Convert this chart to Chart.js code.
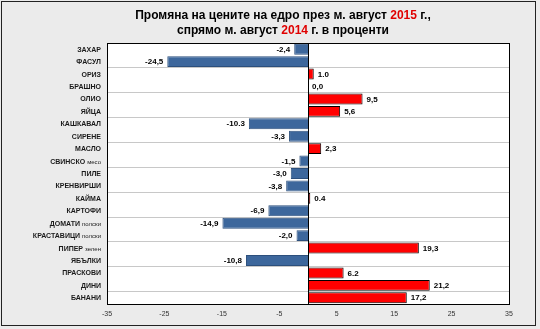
<!DOCTYPE html>
<html lang="bg">
<head>
<meta charset="UTF-8">
<title>Промяна на цените на едро</title>
<script src="https://cdn.jsdelivr.net/npm/chart.js@4.4.0/dist/chart.umd.min.js"></script>
<style>
  body { margin: 0; background: #ebebeb; }
  #wrap { width: 540px; height: 329px; position: relative; }
</style>
</head>
<body>
<div id="wrap"><canvas id="priceChart"></canvas></div>

<script>
// categories: main name + small lowercase suffix
const products = ["ЗАХАР", "ФАСУЛ", "ОРИЗ", "БРАШНО", "ОЛИО", "ЯЙЦА", "КАШКАВАЛ", "СИРЕНЕ", "МАСЛО",
  "СВИНСКО", "ПИЛЕ", "КРЕНВИРШИ", "КАЙМА", "КАРТОФИ", "ДОМАТИ", "КРАСТАВИЦИ", "ПИПЕР",
  "ЯБЪЛКИ", "ПРАСКОВИ", "ДИНИ", "БАНАНИ"];
const suffixes = ["", "", "", "", "", "", "", "", "", "месо", "", "", "", "", "полски", "полски", "зелен",
  "", "", "", ""];
const changes = [-2.4, -24.5, 1.0, 0.0, 9.5, 5.6, -10.3, -3.3, 2.3, -1.5, -3.0, -3.8, 0.4, -6.9,
  -14.9, -2.0, 19.3, -10.8, 6.2, 21.2, 17.2];
const changeLabels = ["-2,4", "-24,5", "1.0", "0,0", "9,5", "5,6", "-10.3", "-3,3", "2,3", "-1,5",
  "-3,0", "-3,8", "0.4", "-6,9", "-14,9", "-2,0", "19,3", "-10,8", "6.2", "21,2", "17,2"];
const xTicks = [-35, -25, -15, -5, 5, 15, 25, 35];

const BLUE = '#3d679c';
const RED = '#ff0000';
const FONT = '"Liberation Sans", Arial, sans-serif';

// background + outer frame
const backdrop = {
  id: 'backdrop',
  beforeDraw(chart) {
    const c = chart.ctx;
    c.save();
    c.fillStyle = '#ebebeb';
    c.fillRect(0, 0, chart.width, chart.height);
    c.strokeStyle = '#222';
    c.lineWidth = 1;
    c.strokeRect(1.5, 1.5, 534, 324);
    // plot area white
    const a = chart.chartArea;
    c.fillStyle = '#ffffff';
    c.fillRect(a.left, a.top, a.right - a.left, a.bottom - a.top);
    c.restore();
  }
};

// title with red years, category names, value labels, frame + zero line
const decorations = {
  id: 'decorations',
  afterDatasetsDraw(chart) {
    const c = chart.ctx;
    const a = chart.chartArea;
    const xs = chart.scales.x, ys = chart.scales.y;
    c.save();

    // zero line
    const x0 = Math.round(xs.getPixelForValue(0)) + 0.5;
    c.strokeStyle = '#000';
    c.lineWidth = 1;
    c.beginPath();
    c.moveTo(x0, a.top);
    c.lineTo(x0, a.bottom);
    c.stroke();

    // plot frame
    c.strokeRect(Math.round(a.left) + 0.5, Math.round(a.top) + 0.5,
      Math.round(a.right - a.left), Math.round(a.bottom - a.top));

    // title
    const lines = [
      [["Промяна на цените на едро през м. август ", '#000'], ["2015", '#e00000'], [" г.,", '#000']],
      [["спрямо м. август ", '#000'], ["2014", '#e00000'], [" г. в проценти", '#000']]
    ];
    c.font = 'bold 12px ' + FONT;
    c.textBaseline = 'alphabetic';
    c.textAlign = 'left';
    lines.forEach((parts, li) => {
      const w = parts.reduce((s, p) => s + c.measureText(p[0]).width, 0);
      let x = 283 - w / 2;
      const y = 19 + li * 15;
      parts.forEach(p => {
        c.fillStyle = p[1];
        c.fillText(p[0], x, y);
        x += c.measureText(p[0]).width;
      });
    });

    // category labels
    c.textBaseline = 'middle';
    products.forEach((name, i) => {
      const y = ys.getPixelForValue(i) + 0.5;
      let x = 101;
      c.fillStyle = '#1a1a1a';
      if (suffixes[i]) {
        c.font = '6px ' + FONT;
        const sw = c.measureText(suffixes[i]).width;
        c.textAlign = 'right';
        c.fillText(suffixes[i], x, y + 0.5);
        x -= sw + 2;
      }
      c.font = 'bold 7px ' + FONT;
      c.textAlign = 'right';
      c.fillText(name, x, y);
    });

    // value labels
    c.font = 'bold 8px ' + FONT;
    c.fillStyle = '#000';
    changes.forEach((v, i) => {
      const y = ys.getPixelForValue(i) + 0.5;
      const xe = xs.getPixelForValue(v);
      if (v < 0) {
        c.textAlign = 'right';
        c.fillText(changeLabels[i], xe - 4, y);
      } else {
        c.textAlign = 'left';
        c.fillText(changeLabels[i], xe + 4, y);
      }
    });
    c.restore();
  }
};

new Chart(document.getElementById('priceChart'), {
  type: 'bar',
  data: {
    labels: products,
    datasets: [{
      data: changes,
      backgroundColor: changes.map(v => v < 0 ? BLUE : RED),
      borderColor: changes.map(v => v < 0 ? '#2c4f7c' : '#000'),
      borderWidth: 1,
      borderSkipped: 'start',
      barPercentage: 0.88,
      categoryPercentage: 1.0
    }]
  },
  options: {
    indexAxis: 'y',
    responsive: true,
    maintainAspectRatio: false,
    animation: false,
    layout: { padding: { left: 107, right: 31, top: 43, bottom: 0 } },
    plugins: {
      legend: { display: false },
      tooltip: { enabled: false }
    },
    scales: {
      x: {
        min: -35,
        max: 35,
        afterBuildTicks(scale) { scale.ticks = xTicks.map(v => ({ value: v })); },
        afterFit(scale) { scale.height = 25; },
        grid: { display: false, drawTicks: false },
        border: { display: false },
        ticks: {
          color: '#333',
          font: { family: FONT, size: 7 },
          padding: 6,
          maxRotation: 0
        }
      },
      y: {
        afterFit(scale) { scale.width = 0; },
        border: { display: false },
        ticks: { display: false },
        grid: {
          offset: true,
          drawTicks: false,
          color: ctx => (ctx.index > 0 && ctx.index < products.length && ctx.index % 2 === 0) ? '#c8c8c8' : 'rgba(0,0,0,0)',
          lineWidth: 1
        }
      }
    }
  },
  plugins: [backdrop, decorations]
});
</script>
</body>
</html>
